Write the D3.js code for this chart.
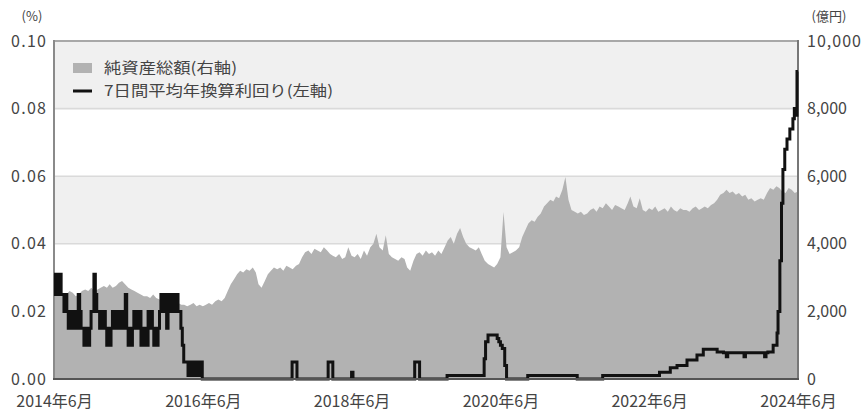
<!DOCTYPE html>
<html><head><meta charset="utf-8">
<script src="https://cdn.jsdelivr.net/npm/d3@7/dist/d3.min.js"></script>
<style>
html,body{margin:0;padding:0;background:#fff;}
svg{display:block;font-family:"Noto Sans CJK JP","Noto Sans",sans-serif;}
</style></head>
<body><svg id="c" width="864" height="412"></svg>
<script>
// ---- DATA ----
const leftTicks = [0, 0.02, 0.04, 0.06, 0.08, 0.10];
const rightTicks = [0, 2000, 4000, 6000, 8000, 10000];
const xTickLabels = ["2014年6月","2016年6月","2018年6月","2020年6月","2022年6月","2024年6月"];
const xTickDates = ["2014-06-01","2016-06-01","2018-06-01","2020-06-01","2022-06-01","2024-06-01"];
const legendLabels = ["純資産総額(右軸)","7日間平均年換算利回り(左軸)"];
const areaStart = "2014-06-01"; // semi-monthly observations (1st and 16th)
const netAssets = [
 2480,2500, 2450,2550, 2500,2600, 2550,2450, 2500,2600, 2650,2600, 2700,2600, 2650,2700, 2750,2700, 2800,2700, 2750,2850, 2900,2800,
 2700,2650, 2600,2550, 2500,2450, 2450,2400, 2500,2400, 2350,2300, 2350,2250, 2300,2250, 2250,2200, 2200,2150, 2200,2250, 2150,2200,
 2150,2200, 2250,2200, 2300,2350, 2300,2400, 2600,2800, 2950,3100, 3200,3150, 3250,3200, 3300,3150, 2800,2700, 2900,3100, 3200,3300,
 3250,3300, 3200,3350, 3300,3250, 3350,3400, 3600,3750, 3800,3700, 3850,3800, 3750,3900, 3800,3700, 3650,3600, 3700,3550, 3600,3900,
 3650,3600, 3700,3550, 3800,3650, 3900,4000, 4300,3900, 3800,4250, 3700,3600, 3550,3500, 3600,3550, 3300,3200, 3500,3700, 3750,3650,
 3800,3700, 3750,3650, 3800,3700, 3900,4100, 4200,4000, 4300,4470, 4200,4000, 3900,3850, 3800,3900, 3700,3500, 3400,3350, 3300,3400,
 3600,4940, 3900,3700, 3750,3800, 3900,4200, 4400,4600, 4700,4650, 4800,4900, 5100,5200, 5300,5250, 5400,5350, 5600,5980, 5300,5000,
 4950,4900, 4950,4850, 4900,5000, 5050,4950, 5100,5050, 5200,5100, 5000,5150, 5100,5050, 5000,5200, 5400,5100, 5050,5350, 5000,4950,
 5050,5000, 5100,4950, 5000,5050, 4950,5100, 5000,4950, 5050,5000, 5000,4950, 5050,5100, 5000,5050, 5100,5050, 5150,5200, 5300,5450,
 5500,5600, 5500,5550, 5450,5500, 5400,5450, 5300,5350, 5250,5300, 5350,5300, 5500,5650, 5600,5700, 5650,5550, 5500,5650, 5600,5500,
 5550
];
const yieldWeeklyStart = "2014-06-01"; // weekly observations, first two years
const yieldWeekly = [
 .031,.025,.031,.025,.031,.025, .025,.02,.025,.02, .015,.02,.015,.02,.015,.02,.015,
 .025,.02,.015,.015,.01, .01,.015,.01,.015,.02, .02,.031,.025,.02,
 .02,.015,.02,.015,.02,.015,.01,.015,.01, .015,.02,.015,.02,.015,.02,.015,.02,.015,.02,.025,
 .015,.01,.015,.01,.015, .02,.015,.02,.015,.02, .01,.015,.01,.015,.01, .02,.015,.02,.015,
 .01,.015,.01,.015,.02, .025,.02,.025,.02,.015,.025,.02,.025,.02,.025,.02,.025, .02,.02,
 .015,.01, .005,.005,.005, .001,.005,.001,.005,.001,.005,.001,.005,.001,.005
];
const yieldChanges = [
 ["2016-05-29",0],["2017-08-13",0.005],["2017-09-06",0],["2018-02-06",0.005],["2018-03-01",0],
 ["2018-06-01",0.002],["2018-06-08",0],["2019-04-07",0.005],["2019-05-01",0],["2019-09-13",0.001],
 ["2020-03-13",0.006],["2020-03-20",0.011],["2020-04-01",0.013],["2020-05-16",0.012],["2020-05-24",0.011],
 ["2020-06-01",0.010],["2020-06-10",0.009],["2020-06-22",0.004],["2020-07-01",0],["2020-10-13",0.001],
 ["2021-06-13",0],["2021-10-16",0.001],["2022-07-22",0.002],["2022-09-13",0.0033],["2022-10-16",0.004],
 ["2022-12-04",0.0056],["2023-01-22",0.0071],["2023-02-22",0.0088],["2023-05-01",0.008],["2023-06-01",0.0078],
 ["2023-06-15",0.0066],["2023-06-22",0.0078],["2023-09-10",0.0066],["2023-09-17",0.0078],["2023-12-20",0.0066],
 ["2023-12-27",0.0078],["2024-01-05",0.008],["2024-01-31",0.010],["2024-02-19",0.0136],["2024-02-24",0.02],
 ["2024-03-04",0.035],["2024-03-12",0.052],["2024-03-19",0.062],["2024-03-28",0.068],["2024-04-08",0.071],
 ["2024-04-22",0.074],["2024-05-07",0.077],["2024-05-14",0.080],["2024-05-21",0.078],["2024-05-27",0.091],
 ["2024-06-01",0.091]
];

// ---- BUILD ----
const parse = d3.utcParse("%Y-%m-%d");
const areaData = netAssets.map((v,i)=>{
  const d = d3.utcMonth.offset(parse(areaStart), Math.floor(i/2));
  if (i%2===1) d.setUTCDate(16);
  return {date:d, v};
});
const yieldData = yieldWeekly.map((v,i)=>({date:d3.utcDay.offset(parse(yieldWeeklyStart), i*7), v}))
  .concat(yieldChanges.map(([d,v])=>({date:parse(d), v})));

const L=54, R=798, T=41, B=379;
const svg = d3.select("#c");
const x = d3.scaleUtc().domain([parse("2014-06-01"), parse("2024-06-01")]).range([L,R]);
const yL = d3.scaleLinear().domain([0,0.10]).range([B,T]);
const yR = d3.scaleLinear().domain([0,10000]).range([B,T]);

// background bands
const bands = [[0.08,0.10],[0.04,0.06],[0,0.02]];
svg.append("g").selectAll("rect").data(bands).join("rect")
  .attr("x",L).attr("width",R-L)
  .attr("y",d=>yL(d[1])).attr("height",d=>yL(d[0])-yL(d[1]))
  .attr("fill","#f0f0f0");
// gridlines
svg.append("g").selectAll("line").data(leftTicks.slice(1,5)).join("line")
  .attr("x1",L).attr("x2",R).attr("y1",d=>yL(d)).attr("y2",d=>yL(d))
  .attr("stroke","#dadada").attr("stroke-width",1.6);

// area
svg.append("path").datum(areaData)
  .attr("fill","#b2b2b2")
  .attr("d", d3.area().x(d=>x(d.date)).y0(B).y1(d=>yR(d.v)));

// frame
svg.append("line").attr("x1",L).attr("x2",R).attr("y1",T).attr("y2",T).attr("stroke","#a8a8a8").attr("stroke-width",2);
svg.append("line").attr("x1",L).attr("x2",L).attr("y1",T-1).attr("y2",B+1).attr("stroke","#8a8a8a").attr("stroke-width",2);
svg.append("line").attr("x1",R).attr("x2",R).attr("y1",T-1).attr("y2",B+1).attr("stroke","#777").attr("stroke-width",2);

// yield line
svg.append("path").datum(yieldData)
  .attr("fill","none").attr("stroke","#111").attr("stroke-width",3)
  .attr("stroke-linejoin","miter")
  .attr("d", d3.line().curve(d3.curveStepAfter).x(d=>x(d.date)).y(d=>yL(d.v)));

svg.append("line").attr("x1",L-1).attr("x2",R+1).attr("y1",B).attr("y2",B).attr("stroke","#555").attr("stroke-width",2);

// axes
const font = '"Noto Sans CJK JP","Noto Sans",sans-serif';
const axL = d3.axisLeft(yL).tickValues(leftTicks).tickFormat(d3.format(".2f")).tickSize(0).tickPadding(8);
const gL = svg.append("g").attr("transform",`translate(${L},0)`).call(axL);
const axR = d3.axisRight(yR).tickValues(rightTicks).tickFormat(d3.format(",")).tickSize(0).tickPadding(9);
const gR = svg.append("g").attr("transform",`translate(${R},0)`).call(axR);
const axB = d3.axisBottom(x).tickValues(xTickDates.map(parse)).tickFormat((d,i)=>xTickLabels[i]).tickSize(0).tickPadding(17);
const gB = svg.append("g").attr("transform",`translate(0,${B})`).call(axB);
[gL,gR].forEach(g=>{
  g.select(".domain").remove();
  g.selectAll("text").attr("fill","#444").style("font-size","16px").style("font-family",font)
   .attr("textLength",d=>d>=10000?54:(g===gL?35:null));
});
gB.select(".domain").remove();
gB.selectAll("text").attr("fill","#444").style("font-size","16px").style("font-family",font);

svg.append("text").attr("x",32).attr("y",21).attr("text-anchor","middle").attr("fill","#444").style("font-size","13px").text("(%)");
svg.append("text").attr("x",829).attr("y",21).attr("text-anchor","middle").attr("fill","#444").style("font-size","13px").text("(億円)");

// legend
const lg = svg.append("g");
lg.append("rect").attr("x",73).attr("y",63).attr("width",19).attr("height",10).attr("fill","#b2b2b2");
lg.append("line").attr("x1",73).attr("x2",92).attr("y1",91).attr("y2",91).attr("stroke","#111").attr("stroke-width",3);
const legendWidths = [133, 229];
lg.selectAll("text").data(legendLabels).join("text")
  .attr("x",104).attr("y",(d,i)=>68+i*23).attr("dy","0.35em")
  .attr("textLength",(d,i)=>legendWidths[i]).attr("lengthAdjust","spacingAndGlyphs")
  .attr("fill","#444").style("font-size","15px").text(d=>d);
</script></body></html>
